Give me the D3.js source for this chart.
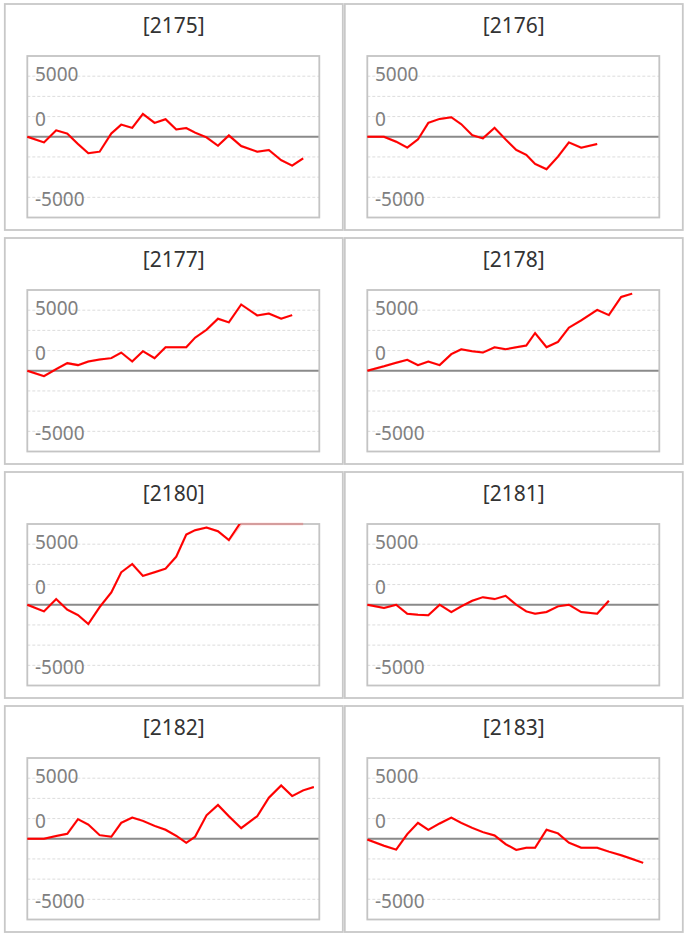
<!DOCTYPE html>
<html>
<head>
<meta charset="utf-8">
<script src="https://cdn.jsdelivr.net/npm/d3@7/dist/d3.min.js"></script>
<style>
  html, body { margin: 0; padding: 0; background: #ffffff; }
  svg { display: block; }
</style>
</head>
<body>
<div id="chart"></div>
<script>
// ---- data ----
const xDays = [0, 1.53, 2.65, 3.67, 4.65, 5.6, 6.64, 7.71, 8.62, 9.63, 10.61, 11.68, 12.69,
               13.67, 14.59, 15.4, 16.45, 17.5, 18.5, 19.63, 21.1, 22.17, 23.3, 24.31, 25.32, 26.3];

const panelIds = ["2175", "2176", "2177", "2178", "2180", "2181", "2182", "2183"];

const s2175 = [0, -700, 800, 400, -900, -2050, -1850, 400, 1500, 1100, 2830, 1720, 2170, 900, 1070,
               500, -80, -1110, 160, -1150, -1850, -1640, -2910, -3570, -2670];
const s2176 = [0, 0, -615, -1350, -330, 1720, 2210, 2420, 1560, 200, -200, 1100, -330, -1640, -2250,
               -3360, -4020, -2460, -700, -1350, -900];
const s2177 = [0, -660, 200, 940, 700, 1150, 1390, 1560, 2250, 1150, 2420, 1560, 2910, 2910, 2910,
               4100, 5080, 6440, 5990, 8200, 6850, 7090, 6440, 6890];
const s2178 = [0, 550, 1000, 1350, 700, 1150, 700, 2050, 2660, 2420, 2250, 2910, 2660, 2910, 3120,
               4670, 2910, 3570, 5330, 6230, 7540, 6890, 9140, 9550];
const s2180 = [0, -820, 700, -615, -1270, -2380, -290, 1520, 4020, 5040, 3570, 4020, 4470, 5950, 8690,
               9230, 9550, 9100, 8000, 10300, 10900, 11400, 11800, 12300, 12600];
const s2181 = [0, -410, 0, -1110, -1230, -1310, 0, -900, -200, 490, 940, 700, 1110, 0, -820,
               -1110, -900, -200, 0, -900, -1110, 490];
const s2182 = [0, 0, 330, 615, 2420, 1760, 450, 250, 1970, 2620, 2210, 1600, 1110, 370, -490,
               250, 2910, 4180, 2790, 1310, 2790, 5080, 6600, 5290, 5990, 6400];
const s2183 = [-100, -860, -1350, 570, 1970, 1110, 1890, 2620, 1970, 1350, 820, 410, -660, -1390, -1110,
               -1110, 1110, 660, -490, -1110, -1110, -1600, -2050, -2500, -2990];

const seriesList = [s2175, s2176, s2177, s2178, s2180, s2181, s2182, s2183];

const yDomain = [-10000, 10000];
const xDomain = [0, 26.8];
const gridValues = [-7500, -5000, -2500, 2500, 5000, 7500];
const tickLabels = ["5000", "0", "-5000"];
const tickLabelAt = [7500, 2500, -7500];

// ---- layout ----
const W = 689, H = 935;
const panelW = 338, panelH = 226, colPitch = 340, rowPitch = 234;
const panelX0 = 4.8, panelY0 = 4;
const boxDX = 22.5, boxDY = 52, boxW = 292, boxH = 161.5;

const svg = d3.select("#chart").append("svg")
  .attr("width", W).attr("height", H)
  .style("background", "#ffffff");

panelIds.forEach((id, i) => {
  const col = i % 2, row = Math.floor(i / 2);
  const px = panelX0 + col * colPitch;
  const py = panelY0 + row * rowPitch;
  const g = svg.append("g");

  // panel frame
  g.append("rect")
    .attr("x", px).attr("y", py)
    .attr("width", panelW).attr("height", panelH)
    .attr("fill", "#ffffff")
    .attr("stroke", "#c8c8c8").attr("stroke-width", 1.8);

  // title
  g.append("text")
    .attr("x", px + panelW / 2).attr("y", py + 29)
    .attr("text-anchor", "middle")
    .attr("font-family", "'Noto Sans', 'DejaVu Sans', sans-serif")
    .attr("font-size", 21)
    .attr("fill", "#333333")
    .text("[" + id + "]");

  const x0 = px + boxDX, y0 = py + boxDY;
  const x = d3.scaleLinear().domain(xDomain).range([x0, x0 + boxW]);
  const y = d3.scaleLinear().domain(yDomain).range([y0 + boxH, y0]);

  // gridlines
  g.selectAll(".grid").data(gridValues).enter().append("line")
    .attr("x1", x0).attr("x2", x0 + boxW)
    .attr("y1", d => y(d)).attr("y2", d => y(d))
    .attr("stroke", "#dcdcdc").attr("stroke-width", 1)
    .attr("stroke-dasharray", "3,2");

  // tick labels
  const dys = [0, 4, 4];
  g.selectAll(".lab").data(tickLabels).enter().append("text")
    .attr("x", x0 + 7.7)
    .attr("y", (d, k) => y(tickLabelAt[k]) + dys[k])
    .attr("dominant-baseline", "middle")
    .attr("font-family", "'Noto Sans', 'DejaVu Sans', sans-serif")
    .attr("font-size", 19)
    .attr("fill", "#808080")
    .text(d => d);

  // zero line
  g.append("line")
    .attr("x1", x0).attr("x2", x0 + boxW)
    .attr("y1", y(0)).attr("y2", y(0))
    .attr("stroke", "#8a8a8a").attr("stroke-width", 2);

  // plot box
  g.append("rect")
    .attr("x", x0).attr("y", y0)
    .attr("width", boxW).attr("height", boxH)
    .attr("fill", "none")
    .attr("stroke", "#c4c4c4").attr("stroke-width", 1.8);

  const vals = seriesList[i];
  const pts = vals.map((v, k) => [xDays[k], v]);

  const clipId = "clip" + id;
  svg.append("clipPath").attr("id", clipId)
    .append("rect").attr("x", x0 - 2).attr("y", y0).attr("width", boxW + 4).attr("height", boxH);

  // clamped ghost line (shows out-of-range values along the edge)
  const yc = y.copy().clamp(true);
  g.append("path")
    .datum(pts)
    .attr("fill", "none")
    .attr("stroke", "rgba(255,0,0,0.22)")
    .attr("stroke-width", 2.5)
    .attr("d", d3.line().x(d => x(d[0])).y(d => yc(d[1])));

  // main line
  g.append("path")
    .datum(pts)
    .attr("clip-path", "url(#" + clipId + ")")
    .attr("fill", "none")
    .attr("stroke", "#ff0000")
    .attr("stroke-width", 2)
    .attr("stroke-linejoin", "miter")
    .attr("d", d3.line().x(d => x(d[0])).y(d => y(d[1])));
});
</script>
</body>
</html>
